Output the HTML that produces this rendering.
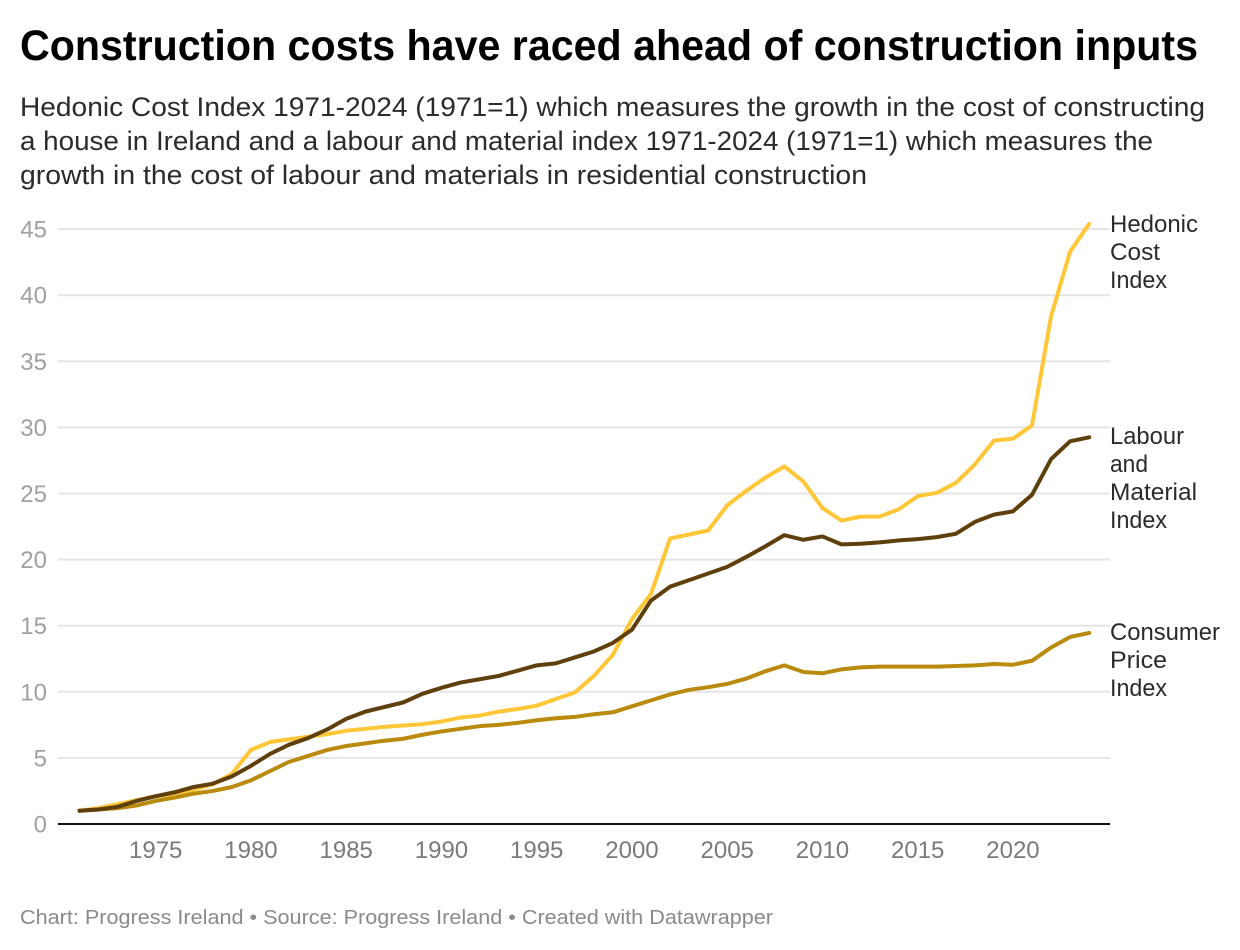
<!DOCTYPE html>
<html lang="en">
<head>
<meta charset="utf-8">
<title>Construction costs have raced ahead of construction inputs</title>
<style>
html,body{margin:0;padding:0;background:#fff;}
svg{display:block;font-family:"Liberation Sans",sans-serif;}
</style>
</head>
<body>
<svg id="chart" width="1240" height="950" viewBox="0 0 1240 950" xmlns="http://www.w3.org/2000/svg">
  <rect x="0" y="0" width="1240" height="950" fill="#ffffff"/>
  <text x="20" y="60" font-size="43" font-weight="700" fill="#000" textLength="1178" lengthAdjust="spacingAndGlyphs">Construction costs have raced ahead of construction inputs</text>
  <g font-size="26.5" fill="#2b2b2b">
    <text x="20" y="116" textLength="1185" lengthAdjust="spacingAndGlyphs">Hedonic Cost Index 1971-2024 (1971=1) which measures the growth in the cost of constructing</text>
    <text x="20" y="150" textLength="1133" lengthAdjust="spacingAndGlyphs">a house in Ireland and a labour and material index 1971-2024 (1971=1) which measures the</text>
    <text x="20" y="184" textLength="847" lengthAdjust="spacingAndGlyphs">growth in the cost of labour and materials in residential construction</text>
  </g>
  <g id="grid"></g>
  <g id="ylabels"></g>
  <g id="xlabels"></g>
  <g id="lines"></g>
  <g font-size="24" fill="#2b2b2b" lengthAdjust="spacingAndGlyphs">
    <text x="1110" y="232" textLength="88" lengthAdjust="spacingAndGlyphs">Hedonic</text><text x="1110" y="260" textLength="50" lengthAdjust="spacingAndGlyphs">Cost</text><text x="1110" y="288" textLength="57" lengthAdjust="spacingAndGlyphs">Index</text>
  </g>
  <g font-size="24" fill="#2b2b2b">
    <text x="1110" y="444" textLength="74" lengthAdjust="spacingAndGlyphs">Labour</text><text x="1110" y="472" textLength="38" lengthAdjust="spacingAndGlyphs">and</text><text x="1110" y="500" textLength="87" lengthAdjust="spacingAndGlyphs">Material</text><text x="1110" y="528" textLength="57" lengthAdjust="spacingAndGlyphs">Index</text>
  </g>
  <g font-size="24" fill="#2b2b2b">
    <text x="1110" y="640" textLength="110" lengthAdjust="spacingAndGlyphs">Consumer</text><text x="1110" y="668" textLength="57" lengthAdjust="spacingAndGlyphs">Price</text><text x="1110" y="696" textLength="57" lengthAdjust="spacingAndGlyphs">Index</text>
  </g>
  <text x="20" y="924" font-size="20.5" fill="#8a8a8a" textLength="753" lengthAdjust="spacingAndGlyphs">Chart: Progress Ireland • Source: Progress Ireland • Created with Datawrapper</text>
</svg>
<script>
const years = [1971,1972,1973,1974,1975,1976,1977,1978,1979,1980,1981,1982,1983,1984,1985,1986,1987,1988,1989,1990,1991,1992,1993,1994,1995,1996,1997,1998,1999,2000,2001,2002,2003,2004,2005,2006,2007,2008,2009,2010,2011,2012,2013,2014,2015,2016,2017,2018,2019,2020,2021,2022,2023,2024];
const hedonicCost = [1,1.2,1.5,1.8,2.1,2.3,2.6,3.0,3.8,5.6,6.2,6.4,6.6,6.8,7.05,7.2,7.35,7.45,7.55,7.75,8.05,8.2,8.5,8.7,8.95,9.45,9.95,11.2,12.8,15.5,17.4,21.6,21.9,22.2,24.1,25.2,26.2,27.05,25.9,23.9,22.95,23.25,23.25,23.8,24.8,25.05,25.8,27.2,29,29.15,30.15,38.4,43.3,45.4];
const consumerPrice = [1,1.1,1.2,1.4,1.75,2.0,2.3,2.5,2.8,3.3,4,4.7,5.15,5.6,5.9,6.1,6.3,6.45,6.75,7,7.2,7.4,7.5,7.65,7.85,8,8.1,8.3,8.45,8.9,9.35,9.8,10.15,10.35,10.6,11.0,11.55,12.0,11.5,11.4,11.7,11.85,11.9,11.9,11.9,11.9,11.95,12,12.1,12.05,12.35,13.35,14.15,14.45];
const labourMaterial = [1,1.1,1.3,1.75,2.1,2.4,2.8,3.05,3.6,4.4,5.3,6.0,6.5,7.15,7.95,8.5,8.85,9.2,9.85,10.3,10.7,10.95,11.2,11.6,12,12.15,12.6,13.05,13.7,14.7,16.9,17.95,18.45,18.95,19.45,20.2,21,21.85,21.5,21.75,21.15,21.2,21.3,21.45,21.55,21.7,21.95,22.85,23.4,23.65,24.9,27.6,28.95,29.25];
const yTicks = [0,5,10,15,20,25,30,35,40,45];
const xTicks = [1975,1980,1985,1990,1995,2000,2005,2010,2015,2020];

const NS = 'http://www.w3.org/2000/svg';
function xScale(year) { return 79.5 + (year - 1971) * 19.05; }
function yScale(v) { return 824 - v * 13.22; }

const grid = document.getElementById('grid');
const ylabels = document.getElementById('ylabels');
const xlabels = document.getElementById('xlabels');
const lines = document.getElementById('lines');

yTicks.forEach(function (t) {
  const y = yScale(t);
  const l = document.createElementNS(NS, 'line');
  
  
  l.setAttribute('x1', 58);
  l.setAttribute('x2', 1110);
  l.setAttribute('y1', y);
  l.setAttribute('y2', y);
  l.setAttribute('stroke', t === 0 ? '#111' : '#e5e5e5');
  l.setAttribute('stroke-width', 2);
  grid.appendChild(l);
  const txt = document.createElementNS(NS, 'text');
  
  
  txt.setAttribute('x', 47);
  txt.setAttribute('y', y + 8.5);
  txt.setAttribute('text-anchor', 'end');
  txt.setAttribute('font-size', 24);
  txt.setAttribute('fill', '#a0a0a0');
  txt.textContent = t;
  ylabels.appendChild(txt);
});

xTicks.forEach(function (t) {
  const txt = document.createElementNS(NS, 'text');
  
  
  txt.setAttribute('x', xScale(t));
  txt.setAttribute('y', 858);
  txt.setAttribute('text-anchor', 'middle');
  txt.setAttribute('font-size', 24);
  txt.setAttribute('fill', '#7a7a7a');
  txt.textContent = t;
  xlabels.appendChild(txt);
});

function drawLine(values, color, name) {
  const p = document.createElementNS(NS, 'path');
  
  
  p.setAttribute('d', values.map(function (v, i) {
    return (i ? 'L' : 'M') + xScale(years[i]).toFixed(2) + ' ' + yScale(v).toFixed(2);
  }).join(' '));
  p.setAttribute('fill', 'none');
  p.setAttribute('stroke', color);
  p.setAttribute('stroke-width', 4);
  p.setAttribute('stroke-linejoin', 'round');
  p.setAttribute('stroke-linecap', 'round');
  lines.appendChild(p);
}
drawLine(hedonicCost, '#ffc737', 'line-hedonic-cost-index');
drawLine(consumerPrice, '#b98a0c', 'line-consumer-price-index');
drawLine(labourMaterial, '#5f3f0b', 'line-labour-material-index');
</script>
</body>
</html>
